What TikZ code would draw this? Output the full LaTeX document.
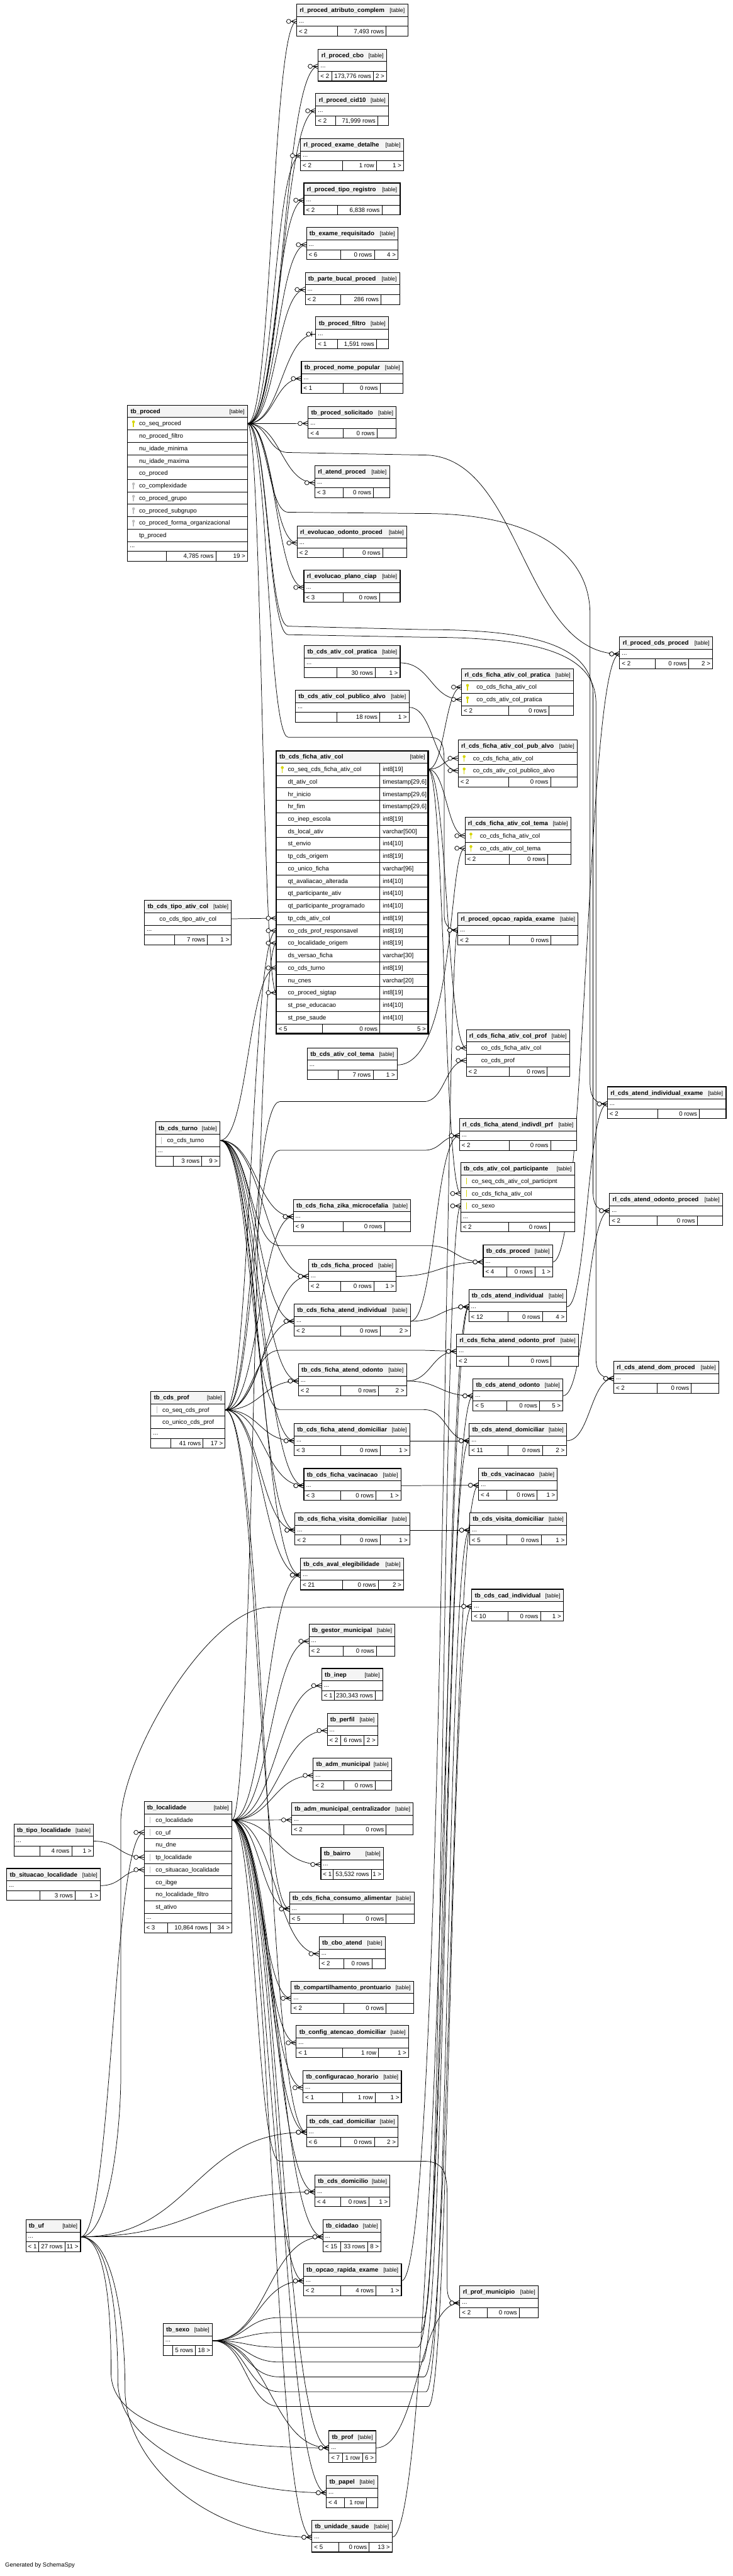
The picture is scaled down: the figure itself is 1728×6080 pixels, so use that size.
\documentclass[tikz,border=0pt]{standalone}
\usepackage{fontspec}
\setmainfont{Liberation Sans}
\usetikzlibrary{calc}
\pgfdeclarelayer{bgz}
\pgfdeclarelayer{edges}
\pgfdeclarelayer{tfill}
\pgfsetlayers{bgz,edges,tfill,main}
\definecolor{hdr}{RGB}{244,244,244}
\definecolor{keyY}{RGB}{214,214,0}
\definecolor{keyG}{RGB}{190,190,190}
\newcommand{\fsA}{\fontsize{14.5}{17}\selectfont}
\newcommand{\fsB}{\fontsize{13}{15}\selectfont}
\tikzset{
  outerb/.style={draw=black,line width=1.6pt},
  innerb/.style={draw=black,line width=0.9pt},
  rel/.style={draw=black,line width=1.1pt},
  ttl/.style={font=\fsA\bfseries,inner sep=0pt},
  cell/.style={font=\fsA,inner sep=0pt},
  tagf/.style={font=\fsB,inner sep=0pt},
}
\newcommand{\rtab}[6]{%
  \xdef\Tid{#1}\xdef\Txa{#3}\xdef\Txb{#4}\xdef\Ttop{#5}\xdef\Toff{#6}\xdef\Trow{0}%
  \fill[hdr] (#3,#5) rectangle (#4,{#5+29});%
  \node[ttl,anchor=base west] (#1-title) at ({#3+7},{#5+19.5}) {#2};%
  \node[tagf,anchor=base east] (#1-tag) at ({#4-7},{#5+19.5}) {[table]};%
  \pgfmathsetmacro\tmp{#5+29}\xdef\curY{\tmp}%
}
\newcommand{\drawicon}[3]{%
  \ifcase#1\relax
  \or \fill[keyY] ({#2},{#3-4}) circle[radius=3.4pt]; \draw[keyY,line width=2.2pt] ({#2},{#3-2}) -- ({#2},{#3+8});%
  \or \fill[keyG] ({#2},{#3-4}) circle[radius=3.4pt]; \draw[keyG,line width=2.2pt] ({#2},{#3-2}) -- ({#2},{#3+8});%
  \or \draw[keyY,line width=1.6pt] ({#2},{#3-8}) -- ({#2},{#3+8});%
  \or \draw[keyG,line width=1.6pt] ({#2},{#3-8}) -- ({#2},{#3+8});%
  \fi}
\newcommand{\trow}[2]{%
  \draw[innerb] (\Txa,\curY) -- (\Txb,\curY);%
  \pgfmathsetmacro\Tmid{\curY+14.65}%
  \node[cell,anchor=base west] at ({\Txa+\Toff},{\Tmid+5}) {#1};%
  \coordinate (\Tid-r\Trow-in) at (\Txa,\Tmid);%
  \coordinate (\Tid-r\Trow-out) at (\Txb,\Tmid);%
  \drawicon{#2}{\Txa+14}{\Tmid}%
  \pgfmathsetmacro\tmp{\curY+29.3}\xdef\curY{\tmp}%
  \pgfmathtruncatemacro\tmp{\Trow+1}\xdef\Trow{\tmp}%
}
\newcommand{\tdots}{%
  \draw[innerb] (\Txa,\curY) -- (\Txb,\curY);%
  \pgfmathsetmacro\Tmid{\curY+11.5}%
  \node[cell,anchor=base west] at ({\Txa+5},{\Tmid+3}) {...};%
  \coordinate (\Tid-in) at (\Txa,\Tmid);%
  \coordinate (\Tid-out) at (\Txb,\Tmid);%
  \pgfmathsetmacro\tmp{\curY+23}\xdef\curY{\tmp}%
}
\newcommand{\tfoot}[5]{%
  \draw[innerb] (\Txa,\curY) -- (\Txb,\curY);%
  \pgfmathsetmacro\Tbot{\curY+23.5}%
  \draw[innerb] (#1,\curY) -- (#1,\Tbot) (#2,\curY) -- (#2,\Tbot);%
  \pgfmathsetmacro\Tmid{\curY+11.75}%
  \node[cell,anchor=base west] at ({\Txa+5},{\Tmid+5}) {#3};%
  \node[cell,anchor=base east] at ({#2-5},{\Tmid+5}) {#4};%
  \node[cell,anchor=base east] at ({\Txb-5},{\Tmid+5}) {#5};%
  \begin{pgfonlayer}{tfill}\fill[white] (\Txa,\Ttop) rectangle (\Txb,\Tbot);\end{pgfonlayer}%
  \draw[outerb] (\Txa,\Ttop) rectangle (\Txb,\Tbot);%
  \coordinate (\Tid-nw) at (\Txa,\Ttop);\coordinate (\Tid-se) at (\Txb,\Tbot);%
}
\newcommand{\stab}[9]{\rtab{#1}{#2}{#3}{#4}{#5}{0}\tdots\xdef\SfA{#6}\xdef\SfB{#7}\def\SfL{#8}\def\SfM{#9}\stabR}
\newcommand{\stabR}[1]{\tfoot{\SfA}{\SfB}{\SfL}{\SfM}{#1}}
\newcommand{\frow}[3]{\node[cell,anchor=base west] at ({\Tdiv+7},{\curY+19.65}) {#2};\trow{#1}{#3}}
\newcommand{\crow}[1]{%
  \draw[rel] ([xshift=-13pt]#1) -- ([yshift=6pt]#1) ([xshift=-13pt]#1) -- ([yshift=-6pt]#1) ([xshift=-25pt]#1) -- (#1);%
  \draw[rel,fill=white] ([xshift=-19pt]#1) circle[radius=5pt];}
\newcommand{\zone}[1]{%
  \draw[rel] ([xshift=-9pt,yshift=6pt]#1) -- ([xshift=-9pt,yshift=-6pt]#1) ([xshift=-23pt]#1) -- (#1);%
  \draw[rel,fill=white] ([xshift=-17pt]#1) circle[radius=5pt];}
\newcommand{\EdS}[2]{%
  \begin{pgfonlayer}{edges}\draw[rel] let \p1=(#1),\p2=(#2),\n1={(\x2-\x1)/2} in (#1) .. controls +(\n1,0) and +(-\n1,0) .. (#2);\end{pgfonlayer}\crow{#2}}
\newcommand{\EdZ}[2]{%
  \begin{pgfonlayer}{edges}\draw[rel] let \p1=(#1),\p2=(#2),\n1={(\x2-\x1)/2} in (#1) .. controls +(\n1,0) and +(-\n1,0) .. (#2);\end{pgfonlayer}\zone{#2}}
\newcommand{\EdC}[4]{%
  \begin{pgfonlayer}{edges}\draw[rel] (#1) .. controls +(#3,0) and +(-#4,0) .. (#2);\end{pgfonlayer}\crow{#2}}
\newcommand{\EdR}[5]{%
  \begin{pgfonlayer}{edges}\draw[rel] let \p1=(#1),\p2=(#5),\n1={(#3-\x1)/2},\n2={(\x2-#4)/2} in (#1) .. controls +(\n1,0) and +(-\n1,0) .. (#3,#2) -- (#4,#2) .. controls +(\n2,0) and +(-\n2,0) .. (#5);\end{pgfonlayer}\crow{#5}}

\begin{document}
\begin{tikzpicture}[x=1pt,y=-1pt]
\useasboundingbox (0,0) rectangle (1728,6080);
\begin{pgfonlayer}{bgz}\fill[white] (0,0) rectangle (1728,6080);\end{pgfonlayer}

% ---------- rank 0 / 1 ----------
\rtab{proced}{tb\_proced}{301}{584}{956}{27}
\trow{co\_seq\_proced}{1}
\trow{no\_proced\_filtro}{0}
\trow{nu\_idade\_minima}{0}
\trow{nu\_idade\_maxima}{0}
\trow{co\_proced}{0}
\trow{co\_complexidade}{2}
\trow{co\_proced\_grupo}{2}
\trow{co\_proced\_subgrupo}{2}
\trow{co\_proced\_forma\_organizacional}{2}
\trow{tp\_proced}{0}
\tdots
\tfoot{392}{509}{}{4,785 rows}{19 >}

\rtab{tipoatv}{tb\_cds\_tipo\_ativ\_col}{341}{546}{2125}{35}
\trow{co\_cds\_tipo\_ativ\_col}{0}
\tdots
\tfoot{411}{489}{}{7 rows}{1 >}

\rtab{turno}{tb\_cds\_turno}{367}{519}{2648}{27}
\trow{co\_cds\_turno}{4}
\tdots
\tfoot{409}{476}{}{3 rows}{9 >}

\rtab{cprof}{tb\_cds\_prof}{356}{531}{3284}{27}
\trow{co\_seq\_cds\_prof}{4}
\trow{co\_unico\_cds\_prof}{0}
\tdots
\tfoot{403}{479}{}{41 rows}{17 >}

\rtab{loc}{tb\_localidade}{340}{547}{4252}{27}
\trow{co\_localidade}{4}
\trow{co\_uf}{4}
\trow{nu\_dne}{0}
\trow{tp\_localidade}{4}
\trow{co\_situacao\_localidade}{4}
\trow{co\_ibge}{0}
\trow{no\_localidade\_filtro}{0}
\trow{st\_ativo}{0}
\tdots
\tfoot{395}{496}{< 3}{10,864 rows}{34 >}

\stab{tipoloc}{tb\_tipo\_localidade}{33}{221}{4305}{94}{169}{}{4 rows}{1 >}
\stab{sitloc}{tb\_situacao\_localidade}{16}{237}{4410}{94}{177}{}{3 rows}{1 >}
\stab{uf}{tb\_uf}{61}{190}{5239}{91}{153}{< 1}{27 rows}{11 >}
\stab{sexo}{tb\_sexo}{385}{501}{5484}{407}{461}{}{5 rows}{18 >}

% ---------- rank 2 ----------
\stab{atrib}{rl\_proced\_atributo\_complem}{700}{962}{10}{796}{911}{< 2}{7,493 rows}{}
\stab{cbo}{rl\_proced\_cbo}{751}{912}{116}{783}{881}{< 2}{173,776 rows}{2 >}
\stab{cid}{rl\_proced\_cid10}{745}{917}{221}{792}{891}{< 2}{71,999 rows}{}
\stab{exdet}{rl\_proced\_exame\_detalhe}{709}{952}{327}{808}{888}{< 2}{1 row}{1 >}
\stab{tiporeg}{rl\_proced\_tipo\_registro}{717}{944}{432}{796}{901}{< 2}{6,838 rows}{}
\stab{exreq}{tb\_exame\_requisitado}{723}{939}{537}{804}{883}{< 6}{0 rows}{4 >}
\stab{bucal}{tb\_parte\_bucal\_proced}{720}{943}{643}{803}{899}{< 2}{286 rows}{}
\stab{filtro}{tb\_proced\_filtro}{745}{917}{748}{796}{888}{< 1}{1,591 rows}{}
\stab{nomepop}{tb\_proced\_nome\_popular}{711}{951}{853}{809}{897}{< 1}{0 rows}{}
\stab{solic}{tb\_proced\_solicitado}{727}{935}{959}{809}{889}{< 4}{0 rows}{}
\stab{atproc}{rl\_atend\_proced}{743}{919}{1099}{809}{881}{< 3}{0 rows}{}
\stab{evodont}{rl\_evolucao\_odonto\_proced}{701}{960}{1241}{809}{903}{< 2}{0 rows}{}
\stab{evciap}{rl\_evolucao\_plano\_ciap}{717}{944}{1346}{809}{895}{< 3}{0 rows}{}
\stab{pratica}{tb\_cds\_ativ\_col\_pratica}{718}{944}{1524}{795}{885}{}{30 rows}{1 >}
\stab{pubalvo}{tb\_cds\_ativ\_col\_publico\_alvo}{697}{965}{1629}{795}{896}{}{18 rows}{1 >}

\rtab{ficha}{tb\_cds\_ficha\_ativ\_col}{652}{1010}{1772}{27}
\xdef\Tdiv{896}
\frow{co\_seq\_cds\_ficha\_ativ\_col}{int8[19]}{1}
\frow{dt\_ativ\_col}{timestamp[29,6]}{0}
\frow{hr\_inicio}{timestamp[29,6]}{0}
\frow{hr\_fim}{timestamp[29,6]}{0}
\frow{co\_inep\_escola}{int8[19]}{0}
\frow{ds\_local\_ativ}{varchar[500]}{0}
\frow{st\_envio}{int4[10]}{0}
\frow{tp\_cds\_origem}{int8[19]}{0}
\frow{co\_unico\_ficha}{varchar[96]}{0}
\frow{qt\_avaliacao\_alterada}{int4[10]}{0}
\frow{qt\_participante\_ativ}{int4[10]}{0}
\frow{qt\_participante\_programado}{int4[10]}{0}
\frow{tp\_cds\_ativ\_col}{int8[19]}{0}
\frow{co\_cds\_prof\_responsavel}{int8[19]}{0}
\frow{co\_localidade\_origem}{int8[19]}{0}
\frow{ds\_versao\_ficha}{varchar[30]}{0}
\frow{co\_cds\_turno}{int8[19]}{0}
\frow{nu\_cnes}{varchar[20]}{0}
\frow{co\_proced\_sigtap}{int8[19]}{0}
\frow{st\_pse\_educacao}{int4[10]}{0}
\frow{st\_pse\_saude}{int4[10]}{0}
\draw[innerb] (896,1801) -- (896,\curY);
\tfoot{761}{896}{< 5}{0 rows}{5 >}
\draw[line width=3.5pt] (652,1772) rectangle (1010,\Tbot);

\stab{tema}{tb\_cds\_ativ\_col\_tema}{725}{937}{2473}{798}{880}{}{7 rows}{1 >}
\stab{zika}{tb\_cds\_ficha\_zika\_microcefalia}{692}{969}{2831}{809}{907}{< 9}{0 rows}{}
\stab{fproc}{tb\_cds\_ficha\_proced}{728}{935}{2972}{804}{882}{< 2}{0 rows}{1 >}
\stab{fatind}{tb\_cds\_ficha\_atend\_individual}{694}{968}{3078}{804}{897}{< 2}{0 rows}{2 >}
\stab{fatodo}{tb\_cds\_ficha\_atend\_odonto}{704}{959}{3219}{804}{893}{< 2}{0 rows}{2 >}
\stab{fatdom}{tb\_cds\_ficha\_atend\_domiciliar}{694}{967}{3360}{804}{897}{< 3}{0 rows}{1 >}
\stab{fvac}{tb\_cds\_ficha\_vacinacao}{717}{946}{3466}{804}{887}{< 3}{0 rows}{1 >}
\stab{fvis}{tb\_cds\_ficha\_visita\_domiciliar}{696}{967}{3571}{804}{897}{< 2}{0 rows}{1 >}
\stab{aval}{tb\_cds\_aval\_elegibilidade}{709}{952}{3677}{808}{892}{< 21}{0 rows}{2 >}
\stab{gestor}{tb\_gestor\_municipal}{729}{932}{3833}{809}{888}{< 2}{0 rows}{}
\stab{inep}{tb\_inep}{759}{903}{3938}{788}{885}{< 1}{230,343 rows}{}
\stab{perfil}{tb\_perfil}{772}{891}{4044}{803}{859}{< 2}{6 rows}{2 >}
\stab{admmun}{tb\_adm\_municipal}{739}{924}{4150}{811}{885}{< 2}{0 rows}{}
\stab{admcent}{tb\_adm\_municipal\_centralizador}{688}{975}{4255}{811}{911}{< 2}{0 rows}{}
\stab{bairro}{tb\_bairro}{757}{905}{4360}{786}{876}{< 1}{53,532 rows}{1 >}
\stab{consumo}{tb\_cds\_ficha\_consumo\_alimentar}{683}{977}{4465}{809}{911}{< 5}{0 rows}{}
\stab{cboat}{tb\_cbo\_atend}{753}{909}{4571}{811}{877}{< 2}{0 rows}{}
\stab{compart}{tb\_compartilhamento\_prontuario}{687}{976}{4676}{811}{911}{< 2}{0 rows}{}
\stab{cfgatd}{tb\_config\_atencao\_domiciliar}{699}{964}{4781}{808}{893}{< 1}{1 row}{1 >}
\stab{cfghor}{tb\_configuracao\_horario}{715}{947}{4887}{808}{885}{< 1}{1 row}{1 >}
\stab{caddom}{tb\_cds\_cad\_domiciliar}{723}{939}{4992}{804}{883}{< 6}{0 rows}{2 >}
\stab{domic}{tb\_cds\_domicilio}{743}{920}{5133}{804}{870}{< 4}{0 rows}{1 >}
\stab{cidadao}{tb\_cidadao}{762}{899}{5239}{803}{867}{< 15}{33 rows}{8 >}
\stab{opcrap}{tb\_opcao\_rapida\_exame}{716}{947}{5343}{804}{887}{< 2}{4 rows}{1 >}
\stab{prof}{tb\_prof}{776}{887}{5737}{808}{855}{< 7}{1 row}{6 >}
\stab{papel}{tb\_papel}{770}{891}{5843}{813}{865}{< 4}{1 row}{}
\stab{unid}{tb\_unidade\_saude}{736}{925}{5948}{799}{871}{< 5}{0 rows}{13 >}

% ---------- rank 3 ----------
\rtab{rpratica}{rl\_cds\_ficha\_ativ\_col\_pratica}{1089}{1353}{1578}{35}
\trow{co\_cds\_ficha\_ativ\_col}{1}
\trow{co\_cds\_ativ\_col\_pratica}{1}
\tfoot{1200}{1295}{< 2}{0 rows}{}
\rtab{rpub}{rl\_cds\_ficha\_ativ\_col\_pub\_alvo}{1081}{1362}{1746}{35}
\trow{co\_cds\_ficha\_ativ\_col}{1}
\trow{co\_cds\_ativ\_col\_publico\_alvo}{1}
\tfoot{1200}{1299}{< 2}{0 rows}{}
\rtab{rtema}{rl\_cds\_ficha\_ativ\_col\_tema}{1097}{1347}{1929}{35}
\trow{co\_cds\_ficha\_ativ\_col}{1}
\trow{co\_cds\_ativ\_col\_tema}{1}
\tfoot{1201}{1292}{< 2}{0 rows}{}
\stab{ropc}{rl\_proced\_opcao\_rapida\_exame}{1080}{1364}{2155}{1201}{1300}{< 2}{0 rows}{}
\rtab{rprof}{rl\_cds\_ficha\_ativ\_col\_prof}{1100}{1344}{2430}{35}
\trow{co\_cds\_ficha\_ativ\_col}{0}
\trow{co\_cds\_prof}{0}
\tfoot{1201}{1291}{< 2}{0 rows}{}
\stab{rindprf}{rl\_cds\_ficha\_atend\_indivdl\_prf}{1084}{1360}{2640}{1201}{1299}{< 2}{0 rows}{}
\rtab{partic}{tb\_cds\_ativ\_col\_participante}{1087}{1356}{2744}{26}
\trow{co\_seq\_cds\_ativ\_col\_participnt}{3}
\trow{co\_cds\_ficha\_ativ\_col}{3}
\trow{co\_sexo}{3}
\tdots
\tfoot{1200}{1296}{< 2}{0 rows}{}
\stab{cproc}{tb\_cds\_proced}{1140}{1304}{2938}{1195}{1262}{< 4}{0 rows}{1 >}
\stab{catind}{tb\_cds\_atend\_individual}{1106}{1337}{3044}{1198}{1280}{< 12}{0 rows}{4 >}
\stab{rodoprf}{rl\_cds\_ficha\_atend\_odonto\_prof}{1077}{1365}{3149}{1200}{1300}{< 2}{0 rows}{}
\stab{catodo}{tb\_cds\_atend\_odonto}{1116}{1328}{3254}{1195}{1273}{< 5}{0 rows}{5 >}
\stab{catdom}{tb\_cds\_atend\_domiciliar}{1107}{1337}{3360}{1198}{1280}{< 11}{0 rows}{2 >}
\stab{cvac}{tb\_cds\_vacinacao}{1129}{1315}{3465}{1195}{1267}{< 4}{0 rows}{1 >}
\stab{cvis}{tb\_cds\_visita\_domiciliar}{1108}{1337}{3571}{1195}{1277}{< 5}{0 rows}{1 >}
\stab{ccadind}{tb\_cds\_cad\_individual}{1113}{1329}{3751}{1198}{1275}{< 10}{0 rows}{1 >}
\stab{rprofmun}{rl\_prof\_municipio}{1085}{1270}{5395}{1150}{1225}{< 2}{0 rows}{}

% ---------- rank 4 ----------
\stab{rpcds}{rl\_proced\_cds\_proced}{1462}{1681}{1503}{1545}{1625}{< 2}{0 rows}{2 >}
\stab{rindex}{rl\_cds\_atend\_individual\_exame}{1433}{1713}{2565}{1551}{1650}{< 2}{0 rows}{}
\stab{rodoproc}{rl\_cds\_atend\_odonto\_proced}{1438}{1705}{2817}{1550}{1645}{< 2}{0 rows}{}
\stab{rdomproc}{rl\_cds\_atend\_dom\_proced}{1448}{1696}{3213}{1550}{1631}{< 2}{0 rows}{}

\node[font=\fontsize{14}{16}\selectfont,anchor=base west,inner sep=0pt] (gen) at (12,6058) {Generated by SchemaSpy};

% ---------- connectors ----------
\foreach \t in {atrib,cbo,cid,exdet,tiporeg,exreq,bucal,nomepop,solic,atproc,evodont,evciap}{\EdS{proced-r0-out}{\t-in}}
\EdZ{proced-r0-out}{filtro-in}
\EdS{proced-r0-out}{ficha-r18-in}
\EdS{tipoatv-r0-out}{ficha-r12-in}
\EdS{turno-r0-out}{ficha-r16-in}
\EdS{cprof-r0-out}{ficha-r13-in}
\EdS{loc-r0-out}{ficha-r14-in}

\EdS{ficha-r0-out}{rpratica-r0-in}
\EdS{pratica-out}{rpratica-r1-in}
\EdS{ficha-r0-out}{rpub-r0-in}
\EdS{pubalvo-out}{rpub-r1-in}
\EdS{ficha-r0-out}{rtema-r0-in}
\EdC{tema-out}{rtema-r1-in}{140}{40}
\EdS{ficha-r0-out}{rprof-r0-in}
\EdS{ficha-r0-out}{partic-r1-in}

\foreach \t in {zika,fproc,fatind,fatodo,fatdom,fvac,fvis,aval}{\EdS{turno-r0-out}{\t-in}}
\foreach \t in {zika,fproc,fatind,fatodo,fatdom,fvac,fvis,aval,consumo,caddom}{\EdS{cprof-r0-out}{\t-in}}
\EdR{cprof-r0-out}{2600}{660}{1000}{rprof-r1-in}
\EdR{cprof-r0-out}{2715}{660}{1000}{rindprf-in}
\EdR{cprof-r0-out}{3187}{660}{1000}{rodoprf-in}
\EdR{turno-r0-out}{2940}{660}{1010}{cproc-in}
\EdR{turno-r0-out}{3327}{660}{1000}{catdom-in}

\EdS{fproc-out}{cproc-in}
\EdS{fatind-out}{catind-in}
\EdS{fatind-out}{rindprf-in}
\EdS{fatodo-out}{catodo-in}
\EdS{fatodo-out}{rodoprf-in}
\EdS{fatdom-out}{catdom-in}
\EdS{fvac-out}{cvac-in}
\EdS{fvis-out}{cvis-in}
\EdS{cproc-out}{rpcds-in}
\EdS{catind-out}{rindex-in}
\EdS{catodo-out}{rodoproc-in}
\EdS{catdom-out}{rdomproc-in}
\EdC{opcrap-out}{ropc-in}{100}{30}
\EdS{prof-out}{rprofmun-in}
\EdC{unid-out}{catind-in}{110}{50}

\foreach \t in {aval,gestor,inep,perfil,admmun,admcent,bairro,consumo,cboat,compart,cfgatd,cfghor,caddom,domic,cidadao,opcrap,prof,papel,unid}{\EdS{loc-r0-out}{\t-in}}
\EdS{tipoloc-out}{loc-r3-in}
\EdS{sitloc-out}{loc-r4-in}
\EdS{uf-out}{loc-r1-in}
\foreach \t in {caddom,domic,cidadao}{\EdS{uf-out}{\t-in}}
\foreach \t in {cidadao,opcrap,prof}{\EdS{sexo-out}{\t-in}}
\EdR{sexo-out}{5470}{660}{1000}{partic-r2-in}
\EdR{sexo-out}{5505}{660}{992}{catind-in}
\EdR{sexo-out}{5540}{660}{985}{catodo-in}
\EdR{sexo-out}{5575}{660}{995}{catdom-in}
\EdR{sexo-out}{5610}{660}{1000}{cvac-in}
\EdR{sexo-out}{5645}{660}{1005}{cvis-in}
\EdR{sexo-out}{5680}{660}{1010}{ccadind-in}

\begin{pgfonlayer}{edges}
\draw[rel] (proced-r0-out) .. controls +(48,0) and +(-48,0) .. (680,1068) -- (1000,1074) .. controls +(231,0) and +(-231,0) .. (rpcds-in);
\draw[rel] (proced-r0-out) .. controls +(48,0) and +(-48,0) .. (680,1209) -- (1000,1212) .. controls +(250,0) and +(0,-150) .. (1392,1450) -- (1392,2555) .. controls +(0,40) and +(-25,0) .. (rindex-in);
\draw[rel] (proced-r0-out) .. controls +(48,0) and +(-48,0) .. (680,1478) -- (1000,1486) .. controls +(250,0) and +(0,-120) .. (1399,1640) -- (1399,2810) .. controls +(0,40) and +(-25,0) .. (rodoproc-in);
\draw[rel] (proced-r0-out) .. controls +(48,0) and +(-48,0) .. (680,1498) -- (1000,1504) .. controls +(262,0) and +(0,-120) .. (1406,1660) -- (1406,3205) .. controls +(0,40) and +(-25,0) .. (rdomproc-in);
\draw[rel] (proced-r0-out) .. controls +(48,0) and +(-48,0) .. (680,1740) -- (1010,1740) .. controls +(38,0) and +(0,-60) .. (1048,1820) -- (1048,2160) .. controls +(0,28) and +(-15,0) .. (ropc-in);
\draw[rel] (loc-r0-out) .. controls +(56,0) and +(-56,0) .. (660,5101) -- (1000,5101) .. controls +(55,0) and +(0,-60) .. (1055,5200) -- (1055,5395) .. controls +(0,35) and +(-20,0) .. (rprofmun-in);
\draw[rel] (uf-out) .. controls +(70,0) and +(0,120) .. (285,4900) -- (285,4300) .. controls +(0,-150) and +(-150,0) .. (640,3793) -- (1040,3793) .. controls +(36,0) and +(-36,0) .. (ccadind-in);
\draw[rel] (uf-out) .. controls +(60,0) and +(0,-150) .. (262,5600) .. controls +(0,150) and +(-220,0) .. (prof-in);
\draw[rel] (uf-out) .. controls +(70,0) and +(0,-150) .. (278,5620) .. controls +(0,160) and +(-240,0) .. (papel-in);
\draw[rel] (uf-out) .. controls +(80,0) and +(0,-150) .. (295,5640) .. controls +(0,170) and +(-250,0) .. (unid-in);
\end{pgfonlayer}
\crow{rpcds-in}\crow{rindex-in}\crow{rodoproc-in}\crow{rdomproc-in}\crow{ropc-in}
\crow{rprofmun-in}\crow{ccadind-in}\crow{prof-in}\crow{papel-in}\crow{unid-in}
\end{tikzpicture}
\end{document}
